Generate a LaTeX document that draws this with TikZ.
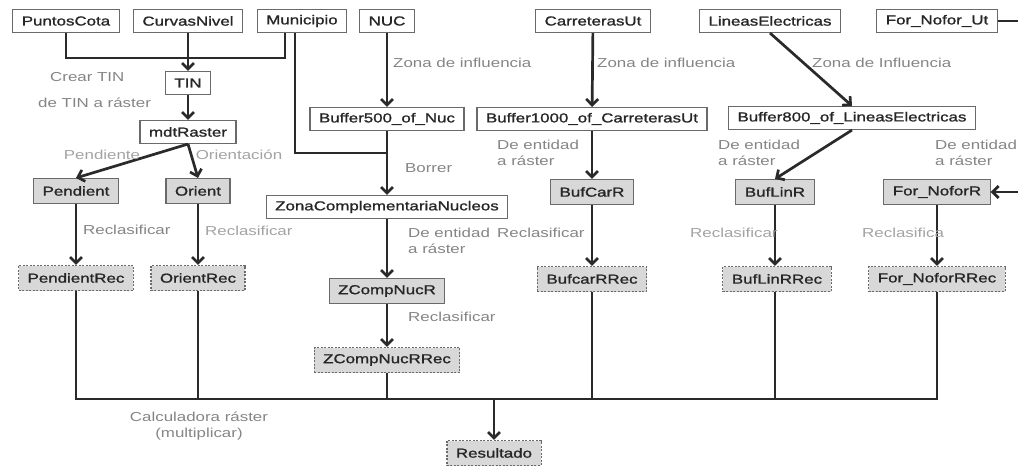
\documentclass[tikz,border=0pt]{standalone}
\usepackage{fontspec}
\setmainfont{Liberation Sans}[FakeStretch=1.3]
\newfontfamily\boxfont{Liberation Sans}[FakeStretch=1.3,FakeBold=1.2]
\usepackage{tikz}
\usetikzlibrary{arrows.meta}

\definecolor{linegray}{HTML}{2A2A2A}
\definecolor{boxline}{HTML}{6A6A6A}
\definecolor{boxfill}{HTML}{D8D8D8}
\definecolor{opgray}{HTML}{858585}
\definecolor{oplight}{HTML}{A3A3A3}

\begin{document}
\begin{tikzpicture}[x=1pt,y=-1pt,
    font=\fontsize{13}{16}\selectfont,
    vecbox/.style={draw=boxline,line width=1.1pt,fill=white,inner xsep=9pt,minimum height=23pt,text=black!85,font=\boxfont\fontsize{13}{16}\selectfont},
    rasbox/.style={vecbox,fill=boxfill,minimum height=25pt},
    recbox/.style={rasbox,dash pattern=on 2pt off 1.5pt},
    conn/.style={draw=linegray,line width=2.7pt},
    arr/.style={conn,-{Straight Barb[length=6pt,width=12pt]}},
    opname/.style={text=opgray,align=left,inner sep=0pt},
    oplite/.style={opname,text=oplight}]
        \useasboundingbox (0,0) rectangle (1018,468);

        % capas de entrada
        \node[vecbox] (puntos) at (66,21) {PuntosCota};
        \node[vecbox] (curvas) at (188,21) {CurvasNivel};
        \node[vecbox] (muni) at (302,21) {Municipio};
        \node[vecbox] (nuc) at (387,21) {NUC};
        \node[vecbox] (carr) at (593,21) {CarreterasUt};
        \node[vecbox] (lineas) at (770,21) {LineasElectricas};
        \node[vecbox] (fornofor) at (937,21) {For\_Nofor\_Ut};

        % TIN y mdt
        \coordinate (tinjoin) at (188,58);
        \node[vecbox] (tin) at (188,83) {TIN};
        \node[vecbox] (mdt) at (188,132) {mdtRaster};
        \draw[conn] (puntos.south) |- (tinjoin) -| ([xshift=-17pt]muni.south);
        \draw[arr] (curvas) -- (tin);
        \draw[arr] (tin) -- (mdt);
        \node[opname,anchor=west] (crear) at (50,77) {Crear TIN};
        \node[opname,anchor=west] (atin) at (38,103) {de TIN a ráster};

        % pendiente / orientacion
        \node[rasbox] (pend) at (76,191) {Pendient};
        \node[rasbox] (orient) at (198,191) {Orient};
        \draw[arr] (mdt.south) -- (pend.north);
        \draw[arr] (mdt.south) -- (orient.north);
        \node[oplite] (oppend) at (102,155) {Pendiente};
        \node[oplite] (oporient) at (239,155) {Orientación};
        \node[recbox] (pendrec) at (76,278) {PendientRec};
        \node[recbox] (orientrec) at (198,278) {OrientRec};
        \draw[arr] (pend) -- (pendrec);
        \draw[arr] (orient) -- (orientrec);
        \node[opname,anchor=west] (rec1) at (83,230) {Reclasificar};
        \node[oplite,anchor=west] (rec2) at (205,231) {Reclasificar};

        % nucleos
        \node[vecbox] (buf500) at (387,119) {Buffer500\_of\_Nuc};
        \coordinate (bufjoin) at (387,153);
        \node[vecbox] (zona) at (387,207) {ZonaComplementariaNucleos};
        \node[rasbox] (zcomp) at (387,291) {ZCompNucR};
        \node[recbox] (zcomprec) at (387,360) {ZCompNucRRec};
        \draw[arr] (nuc) -- (buf500);
        \draw[conn] ([xshift=-7pt]muni.south) |- (bufjoin);
        \draw[arr] (buf500) -- (zona);
        \draw[arr] (zona) -- (zcomp);
        \draw[arr] (zcomp) -- (zcomprec);
        \node[opname,anchor=west] (zinf1) at (393,63) {Zona de influencia};
        \node[opname,anchor=west] (borrar) at (405,168) {Borrer};
        \node[opname,anchor=west] (ent1) at (408,241) {De entidad\\a ráster};
        \node[opname,anchor=west] (rec3) at (408,317) {Reclasificar};

        % carreteras
        \node[vecbox] (buf1000) at (592,119) {Buffer1000\_of\_CarreterasUt};
        \node[rasbox] (bufcar) at (592,192) {BufCarR};
        \node[recbox] (bufcarrec) at (592,279) {BufcarRRec};
        \draw[arr] (carr) -- (buf1000);
        \draw[arr] (buf1000) -- (bufcar);
        \draw[arr] (bufcar) -- (bufcarrec);
        \node[opname,anchor=west] (zinf2) at (597,63) {Zona de influencia};
        \node[opname,anchor=west] (ent2) at (497,153) {De entidad\\a ráster};
        \node[opname,anchor=west] (rec4) at (497,233) {Reclasificar};

        % lineas electricas
        \node[vecbox] (buf800) at (852,118) {Buffer800\_of\_LineasElectricas};
        \node[rasbox] (buflin) at (775,192) {BufLinR};
        \node[recbox] (buflinrec) at (777,279) {BufLinRRec};
        \draw[arr] (lineas.south) -- (buf800.north);
        \draw[arr] (buf800.south) -- (buflin.north);
        \draw[arr] (buflin) -- (buflin |- buflinrec.north);
        \node[opname,anchor=west] (zinf3) at (812,63) {Zona de Influencia};
        \node[opname,anchor=west] (ent3) at (718,153) {De entidad\\a ráster};
        \node[oplite,anchor=west] (rec5) at (690,233) {Reclasificar};

        % forestal
        \node[rasbox] (fornoforr) at (937,192) {For\_NoforR};
        \node[recbox] (fornoforrec) at (937,279) {For\_NoforRRec};
        \coordinate (foredge) at (1030,21);
        \draw[arr] (fornofor.east) -- (foredge) |- (fornoforr.east);
        \draw[arr] (fornoforr) -- (fornoforrec);
        \node[opname,anchor=west] (ent4) at (935,153) {De entidad\\a ráster};
        \node[oplite,anchor=west] (rec6) at (862,233) {Reclasifica};

        % calculadora
        \coordinate (busL) at (76,399);
        \coordinate (busR) at (937,399);
        \node[recbox] (res) at (494,453) {Resultado};
        \draw[conn] (pendrec.south) -- (busL) -- (busR) -- (fornoforrec.south);
        \foreach \n in {orientrec,zcomprec,bufcarrec}
            \draw[conn] (\n.south) -- (\n.south |- busL);
        \draw[conn] (buflin |- buflinrec.south) -- (buflin |- busL);
        \draw[arr] (res.north |- busL) -- (res.north);
        \node[opname,align=center] (calc) at (199,426) {Calculadora ráster\\(multiplicar)};

      \end{tikzpicture}
\end{document}
